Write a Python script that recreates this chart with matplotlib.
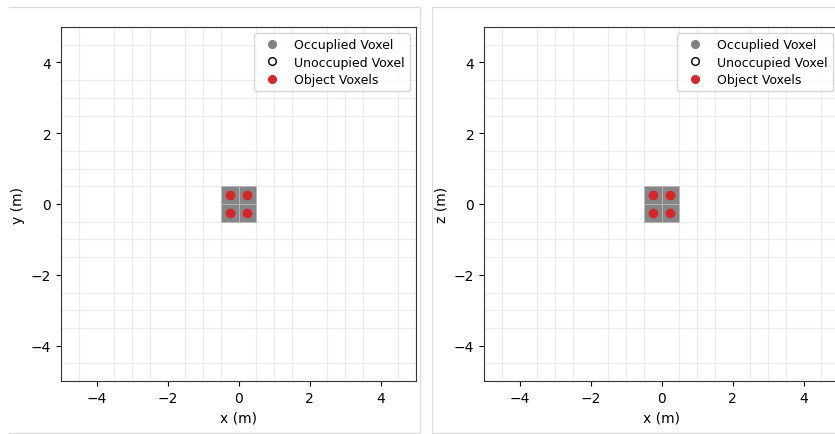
import matplotlib.pyplot as plt
import numpy as np
from matplotlib.lines import Line2D
from matplotlib.patches import Rectangle

# voxel grid
voxel_size = 0.5
limits = (-5, 5)

# occupied voxel centres (same in both views)
occ_x = [-0.25, 0.25, -0.25, 0.25]
occ_y = [-0.25, -0.25, 0.25, 0.25]

# object points
obj_x = [-0.25, 0.25, -0.25, 0.25]
obj_y = [-0.25, -0.25, 0.25, 0.25]

panels = [("x (m)", "y (m)"), ("x (m)", "z (m)")]
ticks = [-4, -2, 0, 2, 4]
legend_labels = ["Occuplied Voxel", "Unoccupied Voxel", "Object Voxels"]

W, H = 835, 435
fig = plt.figure(figsize=(W / 100, H / 100), dpi=100)


def px_line(xs, ys):
    fig.lines.append(Line2D([x / W for x in xs], [1 - y / H for y in ys],
                            transform=fig.transFigure, color="#dcdcdc",
                            linewidth=1.0, zorder=0))


# card outlines behind the two plots
px_line([9, 420, 420, 9], [7.5, 7.5, 433.5, 433.5])
px_line([840, 432, 432, 840], [7.5, 7.5, 433.5, 433.5])

axes_left = [61 / W, 484 / W]
for left, (xl, yl) in zip(axes_left, panels):
    ax = fig.add_axes([left, 1 - 382 / H, 355 / W, 354 / H])
    ax.set_xlim(*limits)
    ax.set_ylim(*limits)
    ax.set_xticks(ticks)
    ax.set_yticks(ticks)
    minor = np.arange(limits[0], limits[1] + voxel_size, voxel_size)
    ax.set_xticks(minor, minor=True)
    ax.set_yticks(minor, minor=True)
    ax.tick_params(which="minor", length=0)
    ax.grid(which="minor", color="#ebebeb", linewidth=0.8)
    ax.set_axisbelow(True)
    for sp in ax.spines.values():
        sp.set_color("#333333")

    for cx, cy in zip(occ_x, occ_y):
        ax.add_patch(Rectangle((cx - voxel_size / 2, cy - voxel_size / 2),
                               voxel_size, voxel_size, facecolor="#868686",
                               edgecolor="#b8b8b8", linewidth=0.6, zorder=2))
    ax.scatter(obj_x, obj_y, s=36, color="#d62728", zorder=3)

    ax.set_xlabel(xl)
    ax.set_ylabel(yl)

    handles = [
        Line2D([], [], marker="o", linestyle="none", markersize=5.5,
               markerfacecolor="gray", markeredgecolor="gray"),
        Line2D([], [], marker="o", linestyle="none", markersize=5.5,
               markerfacecolor="white", markeredgecolor="black"),
        Line2D([], [], marker="o", linestyle="none", markersize=5.5,
               markerfacecolor="#d62728", markeredgecolor="#d62728"),
    ]
    ax.legend(handles, legend_labels, loc="upper right", fontsize=9,
              labelspacing=0.35)

fig.savefig("out.png", dpi=100)
